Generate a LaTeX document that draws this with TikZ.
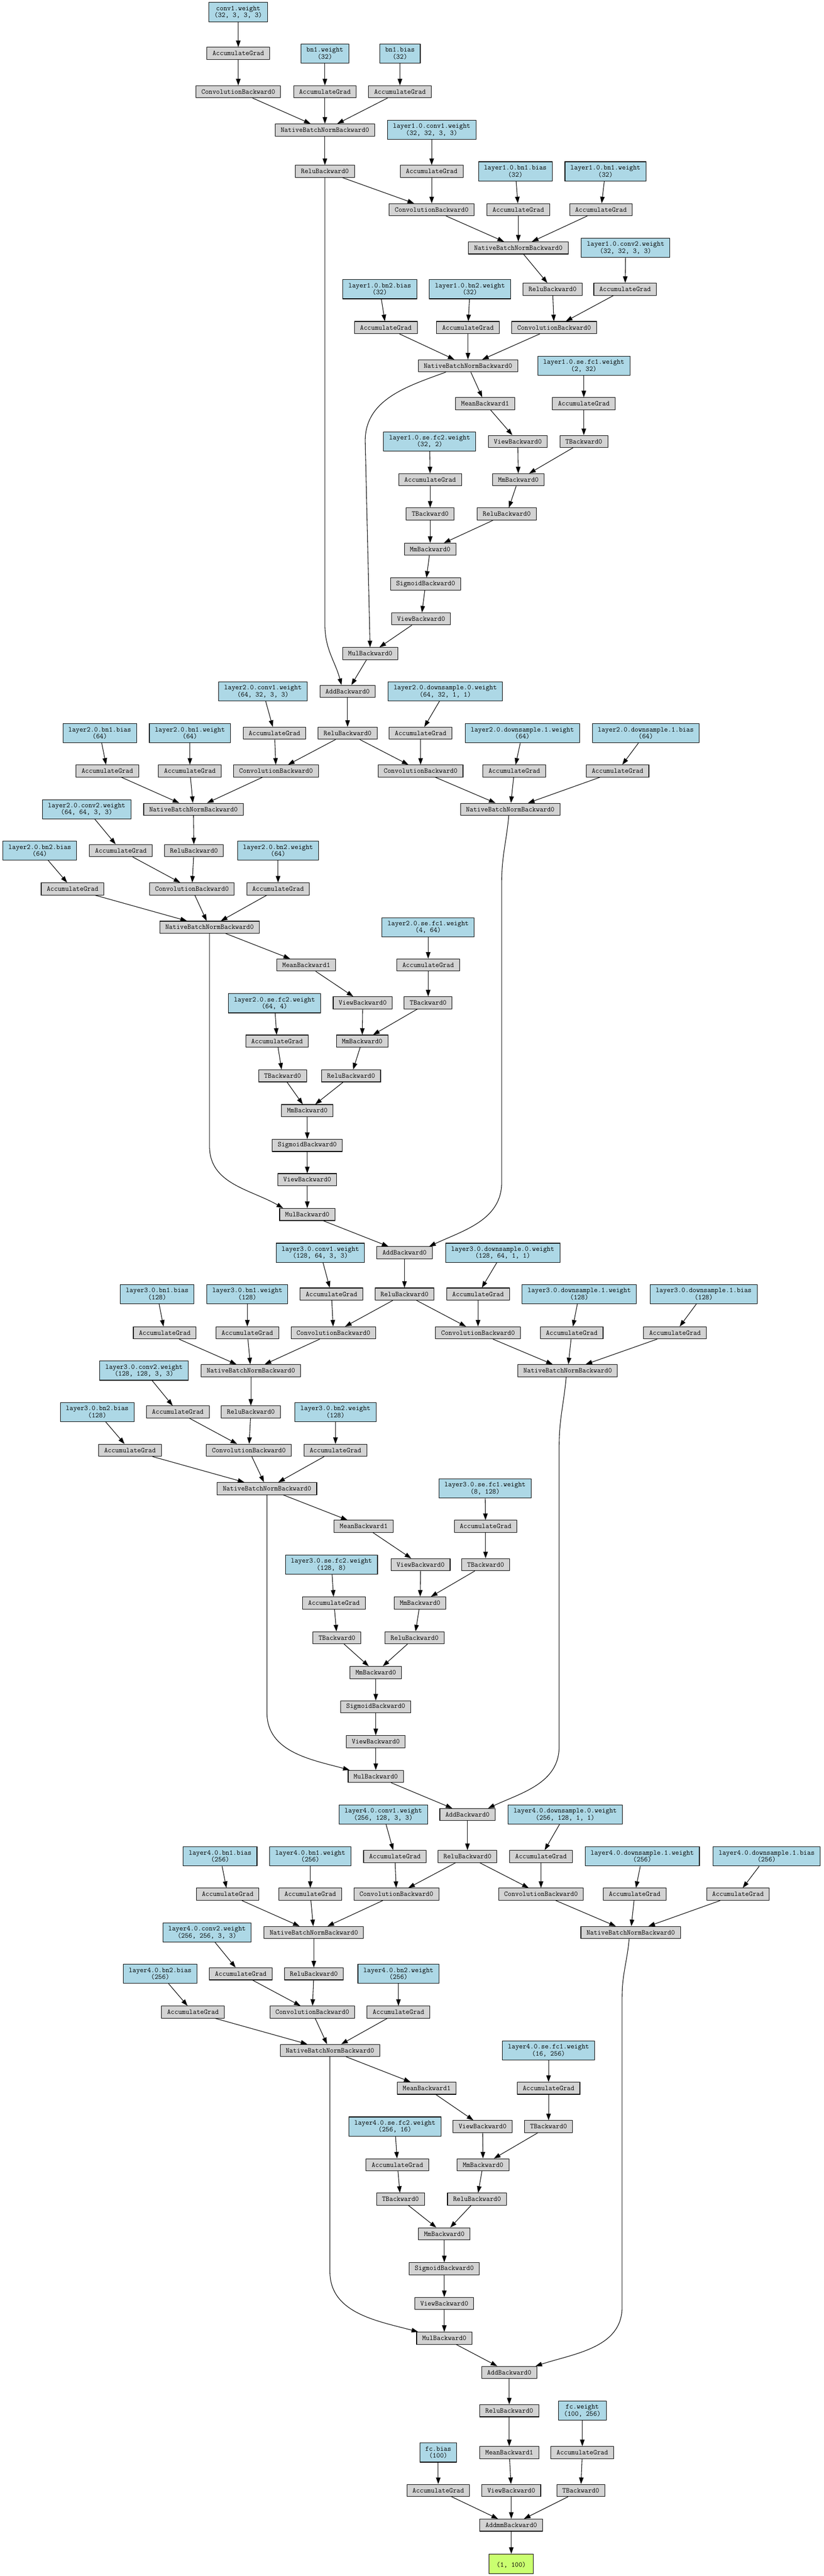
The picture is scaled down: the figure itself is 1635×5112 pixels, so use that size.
\documentclass[tikz,border=0pt]{standalone}
\usepackage{fontspec}
\usepackage{tikz}
\usepackage{xcolor}
\usetikzlibrary{arrows.meta}
\usetikzlibrary{calc}

\definecolor{paramblue}{HTML}{ADD8E6}
\definecolor{opgray}{HTML}{D3D3D3}
\definecolor{outgreen}{HTML}{CAFF70}
\newcommand{\gvfont}{\ttfamily\fontsize{14.2}{13.8}\selectfont}

\begin{document}
\begin{tikzpicture}[x=1pt,y=-1pt,
  every node/.style={font=\gvfont, inner xsep=11pt, inner ysep=0pt, align=center, line width=1.1pt},
  param/.style={draw, fill=paramblue, minimum height=38pt},
  op/.style={draw, fill=opgray, minimum height=24pt},
  outbox/.style={draw, fill=outgreen, minimum height=39pt, minimum width=88pt},
  flow/.style={-{Triangle[length=13pt,width=9pt]}, line width=1.1pt}]

  % canvas
  \path[fill=white, use as bounding box] (0,0) rectangle (1635,5112);

  % stem
  \node[param] (cw0)  at (473,24)  {conv1.weight\\(32, 3, 3, 3)};
  \node[op]    (cg0)  at (473,106) {AccumulateGrad};
  \node[op]    (c0)   at (473,182) {ConvolutionBackward0};
  \node[param] (bw0)  at (645,106) {bn1.weight\\(32)};
  \node[param] (bb0)  at (794,106) {bn1.bias\\(32)};
  \node[op]    (bwg0) at (645,182) {AccumulateGrad};
  \node[op]    (bbg0) at (794,182) {AccumulateGrad};
  \node[op]    (bn0)  at (645,258) {NativeBatchNormBackward0};
  \node[op]    (L1r0) at (645,340) {ReluBackward0};

  % layer1
  \node[param] (L1c1w)  at (857,258)  {layer1.0.conv1.weight\\(32, 32, 3, 3)};
  \node[op]    (L1c1g)  at (857,340)  {AccumulateGrad};
  \node[op]    (L1c1)   at (857,416)  {ConvolutionBackward0};
  \node[param] (L1b1b)  at (1023,340) {layer1.0.bn1.bias\\(32)};
  \node[param] (L1b1w)  at (1202,340) {layer1.0.bn1.weight\\(32)};
  \node[op]    (L1b1bg) at (1029,416) {AccumulateGrad};
  \node[op]    (L1b1wg) at (1193,416) {AccumulateGrad};
  \node[op]    (L1bn1)  at (1029,492) {NativeBatchNormBackward0};
  \node[param] (L1c2w)  at (1242,492) {layer1.0.conv2.weight\\(32, 32, 3, 3)};
  \node[op]    (L1ra)   at (1097,574) {ReluBackward0};
  \node[op]    (L1c2g)  at (1241,574) {AccumulateGrad};
  \node[param] (L1b2b)  at (754,574)  {layer1.0.bn2.bias\\(32)};
  \node[param] (L1b2w)  at (933,574)  {layer1.0.bn2.weight\\(32)};
  \node[op]    (L1b2bg) at (766,650)  {AccumulateGrad};
  \node[op]    (L1b2wg) at (929,650)  {AccumulateGrad};
  \node[op]    (L1c2)   at (1100,650) {ConvolutionBackward0};
  \node[op]    (L1bn2)  at (929,726)  {NativeBatchNormBackward0};
  \node[param] (L1f1w)  at (1159,726) {layer1.0.se.fc1.weight\\(2, 32)};
  \node[op]    (L1mean) at (963,801)  {MeanBackward1};
  \node[op]    (L1f1g)  at (1159,801) {AccumulateGrad};
  \node[param] (L1f2w)  at (853,876)  {layer1.0.se.fc2.weight\\(32, 2)};
  \node[op]    (L1va)   at (1028,876) {ViewBackward0};
  \node[op]    (L1ta)   at (1159,876) {TBackward0};
  \node[op]    (L1f2g)  at (854,952)  {AccumulateGrad};
  \node[op]    (L1mma)  at (1029,952) {MmBackward0};
  \node[op]    (L1tb)   at (854,1020) {TBackward0};
  \node[op]    (L1rb)   at (1006,1020) {ReluBackward0};
  \node[op]    (L1mmb)  at (854,1090) {MmBackward0};
  \node[op]    (L1sig)  at (845,1159) {SigmoidBackward0};
  \node[op]    (L1vb)   at (836,1228) {ViewBackward0};
  \node[op]    (L1mul)  at (735,1297) {MulBackward0};
  \node[op]    (L1add)  at (690,1372) {AddBackward0};

  % layer2
  \node[param] (L2c1w)  at (522,1372) {layer2.0.conv1.weight\\(64, 32, 3, 3)};
  \node[param] (L2d0w)  at (884,1372) {layer2.0.downsample.0.weight\\(64, 32, 1, 1)};
  \node[op]    (L2r0)   at (690,1455) {ReluBackward0};
  \node[op]    (L2c1g)  at (545,1455) {AccumulateGrad};
  \node[op]    (L2d0g)  at (835,1455) {AccumulateGrad};
  \node[param] (L2b1b)  at (198,1455) {layer2.0.bn1.bias\\(64)};
  \node[param] (L2b1w)  at (377,1455) {layer2.0.bn1.weight\\(64)};
  \node[param] (L2d1w)  at (1037,1455) {layer2.0.downsample.1.weight\\(64)};
  \node[param] (L2d1b)  at (1282,1455) {layer2.0.downsample.1.bias\\(64)};
  \node[op]    (L2b1bg) at (213,1530) {AccumulateGrad};
  \node[op]    (L2b1wg) at (377,1530) {AccumulateGrad};
  \node[op]    (L2c1)   at (548,1530) {ConvolutionBackward0};
  \node[op]    (L2dc)   at (835,1530) {ConvolutionBackward0};
  \node[op]    (L2d1wg) at (1021,1530) {AccumulateGrad};
  \node[op]    (L2d1bg) at (1226,1530) {AccumulateGrad};
  \node[op]    (L2bn1)  at (384,1606) {NativeBatchNormBackward0};
  \node[param] (L2c2w)  at (172,1606) {layer2.0.conv2.weight\\(64, 64, 3, 3)};
  \node[op]    (L2dbn)  at (1013,1606) {NativeBatchNormBackward0};
  \node[param] (L2b2b)  at (79,1688)  {layer2.0.bn2.bias\\(64)};
  \node[op]    (L2c2g)  at (240,1688) {AccumulateGrad};
  \node[op]    (L2ra)   at (385,1688) {ReluBackward0};
  \node[param] (L2b2w)  at (552,1688) {layer2.0.bn2.weight\\(64)};
  \node[op]    (L2b2bg) at (144,1764) {AccumulateGrad};
  \node[op]    (L2c2)   at (381,1764) {ConvolutionBackward0};
  \node[op]    (L2b2wg) at (552,1764) {AccumulateGrad};
  \node[op]    (L2bn2)  at (416,1840) {NativeBatchNormBackward0};
  \node[param] (L2f1w)  at (850,1840) {layer2.0.se.fc1.weight\\(4, 64)};
  \node[op]    (L2mean) at (608,1915) {MeanBackward1};
  \node[op]    (L2f1g)  at (850,1915) {AccumulateGrad};
  \node[param] (L2f2w)  at (545,1991) {layer2.0.se.fc2.weight\\(64, 4)};
  \node[op]    (L2va)   at (720,1990) {ViewBackward0};
  \node[op]    (L2ta)   at (850,1990) {TBackward0};
  \node[op]    (L2f2g)  at (550,2066) {AccumulateGrad};
  \node[op]    (L2mma)  at (719,2066) {MmBackward0};
  \node[op]    (L2tb)   at (561,2135) {TBackward0};
  \node[op]    (L2rb)   at (697,2135) {ReluBackward0};
  \node[op]    (L2mmb)  at (610,2204) {MmBackward0};
  \node[op]    (L2sig)  at (610,2273) {SigmoidBackward0};
  \node[op]    (L2vb)   at (610,2341) {ViewBackward0};
  \node[op]    (L2mul)  at (610,2410) {MulBackward0};
  \node[op]    (L2add)  at (803,2486) {AddBackward0};

  % layer3
  \node[param] (L3c1w)  at (636,2486) {layer3.0.conv1.weight\\(128, 64, 3, 3)};
  \node[param] (L3d0w)  at (998,2486) {layer3.0.downsample.0.weight\\(128, 64, 1, 1)};
  \node[op]    (L3r0)   at (803,2568) {ReluBackward0};
  \node[op]    (L3c1g)  at (658,2568) {AccumulateGrad};
  \node[param] (L3b1b)  at (312,2568) {layer3.0.bn1.bias\\(128)};
  \node[param] (L3b1w)  at (491,2568) {layer3.0.bn1.weight\\(128)};
  \node[op]    (L3d0g)  at (949,2568) {AccumulateGrad};
  \node[param] (L3d1w)  at (1150,2568) {layer3.0.downsample.1.weight\\(128)};
  \node[param] (L3d1b)  at (1397,2568) {layer3.0.downsample.1.bias\\(128)};
  \node[op]    (L3b1bg) at (327,2645) {AccumulateGrad};
  \node[op]    (L3b1wg) at (491,2645) {AccumulateGrad};
  \node[op]    (L3c1)   at (662,2645) {ConvolutionBackward0};
  \node[op]    (L3dc)   at (949,2645) {ConvolutionBackward0};
  \node[op]    (L3d1wg) at (1135,2645) {AccumulateGrad};
  \node[op]    (L3d1bg) at (1340,2645) {AccumulateGrad};
  \node[op]    (L3bn1)  at (498,2720) {NativeBatchNormBackward0};
  \node[param] (L3c2w)  at (286,2720) {layer3.0.conv2.weight\\(128, 128, 3, 3)};
  \node[op]    (L3dbn)  at (1127,2720) {NativeBatchNormBackward0};
  \node[param] (L3b2b)  at (193,2802) {layer3.0.bn2.bias\\(128)};
  \node[op]    (L3c2g)  at (353,2802) {AccumulateGrad};
  \node[op]    (L3ra)   at (498,2802) {ReluBackward0};
  \node[param] (L3b2w)  at (666,2802) {layer3.0.bn2.weight\\(128)};
  \node[op]    (L3b2bg) at (258,2878) {AccumulateGrad};
  \node[op]    (L3c2)   at (494,2878) {ConvolutionBackward0};
  \node[op]    (L3b2wg) at (666,2878) {AccumulateGrad};
  \node[op]    (L3bn2)  at (530,2954) {NativeBatchNormBackward0};
  \node[param] (L3f1w)  at (963,2954) {layer3.0.se.fc1.weight\\(8, 128)};
  \node[op]    (L3mean) at (722,3029) {MeanBackward1};
  \node[op]    (L3f1g)  at (964,3029) {AccumulateGrad};
  \node[param] (L3f2w)  at (658,3105) {layer3.0.se.fc2.weight\\(128, 8)};
  \node[op]    (L3va)   at (835,3105) {ViewBackward0};
  \node[op]    (L3ta)   at (964,3105) {TBackward0};
  \node[op]    (L3f2g)  at (663,3181) {AccumulateGrad};
  \node[op]    (L3mma)  at (834,3181) {MmBackward0};
  \node[op]    (L3tb)   at (669,3250) {TBackward0};
  \node[op]    (L3rb)   at (823,3250) {ReluBackward0};
  \node[op]    (L3mmb)  at (746,3319) {MmBackward0};
  \node[op]    (L3sig)  at (746,3387) {SigmoidBackward0};
  \node[op]    (L3vb)   at (746,3456) {ViewBackward0};
  \node[op]    (L3mul)  at (746,3525) {MulBackward0};
  \node[op]    (L3add)  at (928,3601) {AddBackward0};

  % layer4
  \node[param] (L4c1w)  at (761,3601) {layer4.0.conv1.weight\\(256, 128, 3, 3)};
  \node[param] (L4d0w)  at (1122,3601) {layer4.0.downsample.0.weight\\(256, 128, 1, 1)};
  \node[param] (L4b1b)  at (437,3684) {layer4.0.bn1.bias\\(256)};
  \node[param] (L4b1w)  at (616,3684) {layer4.0.bn1.weight\\(256)};
  \node[op]    (L4c1g)  at (784,3684) {AccumulateGrad};
  \node[op]    (L4r0)   at (928,3684) {ReluBackward0};
  \node[op]    (L4d0g)  at (1074,3684) {AccumulateGrad};
  \node[param] (L4d1w)  at (1275,3684) {layer4.0.downsample.1.weight\\(256)};
  \node[param] (L4d1b)  at (1522,3684) {layer4.0.downsample.1.bias\\(256)};
  \node[op]    (L4b1bg) at (452,3759) {AccumulateGrad};
  \node[op]    (L4b1wg) at (616,3759) {AccumulateGrad};
  \node[op]    (L4c1)   at (787,3759) {ConvolutionBackward0};
  \node[op]    (L4dc)   at (1074,3759) {ConvolutionBackward0};
  \node[op]    (L4d1wg) at (1260,3759) {AccumulateGrad};
  \node[op]    (L4d1bg) at (1465,3759) {AccumulateGrad};
  \node[op]    (L4bn1)  at (623,3835) {NativeBatchNormBackward0};
  \node[param] (L4c2w)  at (411,3835) {layer4.0.conv2.weight\\(256, 256, 3, 3)};
  \node[op]    (L4dbn)  at (1252,3835) {NativeBatchNormBackward0};
  \node[param] (L4b2b)  at (318,3917) {layer4.0.bn2.bias\\(256)};
  \node[op]    (L4c2g)  at (478,3917) {AccumulateGrad};
  \node[op]    (L4ra)   at (623,3917) {ReluBackward0};
  \node[param] (L4b2w)  at (791,3917) {layer4.0.bn2.weight\\(256)};
  \node[op]    (L4b2bg) at (383,3993) {AccumulateGrad};
  \node[op]    (L4c2)   at (620,3993) {ConvolutionBackward0};
  \node[op]    (L4b2wg) at (791,3993) {AccumulateGrad};
  \node[op]    (L4bn2)  at (655,4069) {NativeBatchNormBackward0};
  \node[param] (L4f1w)  at (1089,4069) {layer4.0.se.fc1.weight\\(16, 256)};
  \node[op]    (L4mean) at (847,4144) {MeanBackward1};
  \node[op]    (L4f1g)  at (1089,4144) {AccumulateGrad};
  \node[param] (L4f2w)  at (784,4220) {layer4.0.se.fc2.weight\\(256, 16)};
  \node[op]    (L4va)   at (958,4220) {ViewBackward0};
  \node[op]    (L4ta)   at (1089,4220) {TBackward0};
  \node[op]    (L4f2g)  at (789,4296) {AccumulateGrad};
  \node[op]    (L4mma)  at (959,4296) {MmBackward0};
  \node[op]    (L4tb)   at (795,4364) {TBackward0};
  \node[op]    (L4rb)   at (947,4364) {ReluBackward0};
  \node[op]    (L4mmb)  at (882,4433) {MmBackward0};
  \node[op]    (L4sig)  at (882,4502) {SigmoidBackward0};
  \node[op]    (L4vb)   at (882,4571) {ViewBackward0};
  \node[op]    (L4mul)  at (882,4640) {MulBackward0};
  \node[op]    (L4add)  at (1011,4708) {AddBackward0};

  % head
  \node[op]     (Fr)     at (1011,4784) {ReluBackward0};
  \node[param]  (Fww)    at (1156,4784) {fc.weight\\(100, 256)};
  \node[param]  (Fbw)    at (870,4867)  {fc.bias\\(100)};
  \node[op]     (Fmean)  at (1011,4867) {MeanBackward1};
  \node[op]     (Fwg)    at (1156,4867) {AccumulateGrad};
  \node[op]     (Fbg)    at (870,4942)  {AccumulateGrad};
  \node[op]     (Fview)  at (1015,4942) {ViewBackward0};
  \node[op]     (Ft)     at (1153,4942) {TBackward0};
  \node[op]     (Faddmm) at (1015,5011) {AddmmBackward0};
  \node[outbox] (Fout)   at (1015,5088) {\mbox{}\\(1, 100)};

  % stem edges
  \foreach \a/\b in {cw0/cg0, cg0/c0, c0/bn0, bw0/bwg0, bwg0/bn0, bb0/bbg0, bbg0/bn0, bn0/L1r0}
    \draw[flow] (\a) -- (\b);

  % block edges
  \foreach \ly in {1,2,3,4} {
    \foreach \a/\b in {L\ly r0/L\ly c1, L\ly c1w/L\ly c1g, L\ly c1g/L\ly c1, L\ly c1/L\ly bn1,
        L\ly b1b/L\ly b1bg, L\ly b1bg/L\ly bn1, L\ly b1w/L\ly b1wg, L\ly b1wg/L\ly bn1,
        L\ly bn1/L\ly ra, L\ly ra/L\ly c2, L\ly c2w/L\ly c2g, L\ly c2g/L\ly c2, L\ly c2/L\ly bn2,
        L\ly b2b/L\ly b2bg, L\ly b2bg/L\ly bn2, L\ly b2w/L\ly b2wg, L\ly b2wg/L\ly bn2,
        L\ly bn2/L\ly mean, L\ly mean/L\ly va, L\ly va/L\ly mma,
        L\ly f1w/L\ly f1g, L\ly f1g/L\ly ta, L\ly ta/L\ly mma, L\ly mma/L\ly rb, L\ly rb/L\ly mmb,
        L\ly f2w/L\ly f2g, L\ly f2g/L\ly tb, L\ly tb/L\ly mmb,
        L\ly mmb/L\ly sig, L\ly sig/L\ly vb, L\ly vb/L\ly mul, L\ly mul/L\ly add}
      \draw[flow] (\a) -- (\b);
  }

  % downsample edges
  \foreach \ly in {2,3,4} {
    \foreach \a/\b in {L\ly r0/L\ly dc, L\ly d0w/L\ly d0g, L\ly d0g/L\ly dc, L\ly dc/L\ly dbn,
        L\ly d1w/L\ly d1wg, L\ly d1wg/L\ly dbn, L\ly d1b/L\ly d1bg, L\ly d1bg/L\ly dbn}
      \draw[flow] (\a) -- (\b);
  }

  % between blocks and head
  \foreach \a/\b in {L1add/L2r0, L2add/L3r0, L3add/L4r0, L4add/Fr, Fr/Fmean, Fmean/Fview,
      Fview/Faddmm, Fbw/Fbg, Fbg/Faddmm, Fww/Fwg, Fwg/Ft, Ft/Faddmm, Faddmm/Fout}
    \draw[flow] (\a) -- (\b);

  % shortcut and squeeze paths
  \coordinate (k1) at (645,1240);
  \coordinate (m1) at (725,875);
  \coordinate (m2) at (416,2275);
  \coordinate (d2a) at (996,1750);
  \coordinate (d2b) at (996,2346);
  \coordinate (m3) at (530,3399);
  \coordinate (d3a) at (1110,2870);
  \coordinate (d3b) at (1110,3466);
  \coordinate (m4) at (655,4508);
  \coordinate (d4a) at (1235,3963);
  \coordinate (d4b) at (1235,4578);

  \draw[flow] (L1r0) -- (k1) to[out=-90,in=105] ([xshift=-12pt]L1add.north);
  \draw[flow] ([xshift=-44pt]L1bn2.south) to[out=-160,in=90] (m1) -- (L1mul);
  \draw[flow] (L2bn2) -- (m2) to[out=-90,in=150] ([xshift=-48pt]L2mul.north);
  \draw[flow] ([xshift=-3pt]L2dbn.south) to[out=-95,in=90] (d2a) -- (d2b)
    to[out=-90,in=25] ([xshift=49pt]L2add.north);
  \draw[flow] (L3bn2) -- (m3) to[out=-90,in=165] ([xshift=-52pt]L3mul.north);
  \draw[flow] ([xshift=-3pt]L3dbn.south) to[out=-95,in=90] (d3a) -- (d3b)
    to[out=-90,in=25] ([xshift=41pt]L3add.north);
  \draw[flow] (L4bn2) -- (m4) to[out=-90,in=165] ([xshift=-52pt]L4mul.north);
  \draw[flow] ([xshift=-3pt]L4dbn.south) to[out=-95,in=90] (d4a) -- (d4b)
    to[out=-90,in=18] ([xshift=52pt]L4add.north);

\end{tikzpicture}
\end{document}
